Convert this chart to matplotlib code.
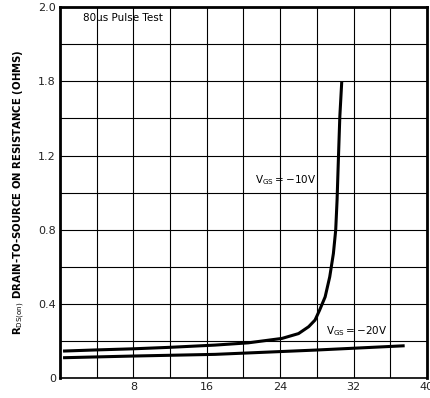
import numpy as np
import matplotlib.pyplot as plt

# data
vds_10 = [0.5, 4, 8, 12, 16.9, 20.5, 24.2, 26.0, 27.1, 27.8, 28.3, 28.9, 29.4,
          29.8, 30.05, 30.2, 30.35, 30.5, 30.7]
rds_10 = [0.146, 0.152, 0.158, 0.166, 0.178, 0.190, 0.214, 0.240, 0.277, 0.313,
          0.367, 0.438, 0.546, 0.672, 0.798, 0.96, 1.19, 1.41, 1.59]

vds_20 = [0.5, 8, 16.9, 27.8, 37.4]
rds_20 = [0.11, 0.119, 0.128, 0.151, 0.174]

xticks = [8, 16, 24, 32, 40]
yticks = [0, 0.4, 0.8, 1.2, 1.6, 2.0]
ytick_labels = ["0", "0.4", "0.8", "1.2", "1.8", "2.0"]

fig = plt.figure(figsize=(4.3, 3.98), dpi=100)
ax = fig.add_axes([0.1395, 0.05, 0.8535, 0.932])

ax.plot(vds_10, rds_10, color='black', lw=2.2, solid_joinstyle='round')
ax.plot(vds_20, rds_20, color='black', lw=2.2, solid_joinstyle='round')

ax.set_xlim(0, 40)
ax.set_ylim(0, 2.0)
ax.set_xticks(np.arange(0, 41, 4), minor=True)
ax.set_yticks(np.arange(0, 2.01, 0.2), minor=True)
ax.set_xticks(xticks)
ax.set_yticks(yticks)
ax.set_yticklabels(ytick_labels)
ax.grid(True, which='both', color='black', lw=0.8)
ax.tick_params(which='both', length=0, labelsize=8, colors='#222222', pad=3)

for s in ['left', 'right', 'top']:
    ax.spines[s].set_linewidth(2.0)
ax.spines['bottom'].set_linewidth(1.2)

ax.text(2.5, 1.94, "80\u00b5s Pulse Test", fontsize=7.5, va='center', ha='left')
ax.text(21.3, 1.07, r"V$_{\rm GS}$$=-$10V", fontsize=7.5, va='center', ha='left')
ax.text(29, 0.255, r"V$_{\rm GS}$$=-$20V", fontsize=7.5, va='center', ha='left')

ax.set_ylabel(r"R$_{\rm DS(on)}$ DRAIN-TO-SOURCE ON RESISTANCE (OHMS)",
              fontsize=7.3, fontweight='bold', labelpad=8)

fig.savefig("out.png", dpi=100)
